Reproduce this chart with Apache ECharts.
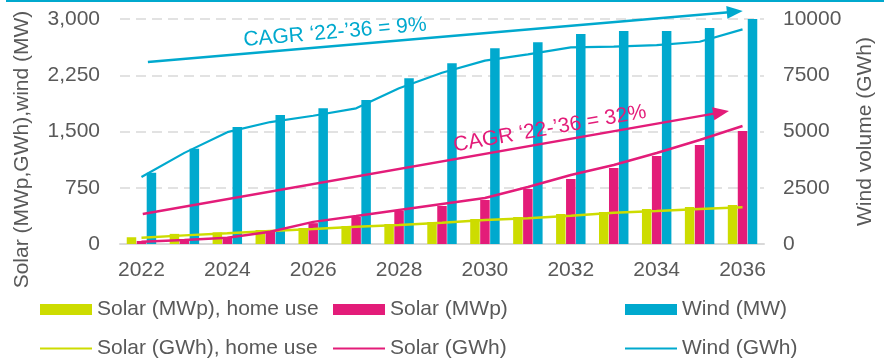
<!DOCTYPE html>
<html>
<head>
<meta charset="utf-8">
<script src="https://cdn.jsdelivr.net/npm/echarts@6/dist/echarts.min.js"></script>
<style>
  html, body { margin: 0; padding: 0; background: #ffffff; }
  #chart { width: 884px; height: 362px; }
</style>
</head>
<body>
<div id="chart"></div>
<script>
// Categories
const years = ['2022', '2023', '2024', '2025', '2026', '2027', '2028', '2029',
               '2030', '2031', '2032', '2033', '2034', '2035', '2036'];

// Installed capacity (bars, left axis)
const solarHomeMWp = [90, 135, 155, 187, 213, 240, 267, 293, 333, 360, 400, 427, 467, 493, 520];
const solarMWp     = [40, 60, 90, 165, 278, 360, 440, 507, 587, 733, 867, 1013, 1173, 1320, 1507];
const windMW       = [950, 1270, 1560, 1720, 1810, 1920, 2210, 2410, 2610, 2690, 2800, 2840, 2840, 2880, 3000];

// Generated volume (lines)
const solarHomeGWh = [82, 115, 142, 173, 200, 231, 253, 284, 320, 342, 378, 418, 440, 467, 489]; // left axis
const solarGWh     = [30, 53, 84, 164, 295, 373, 453, 533, 613, 760, 920, 1053, 1213, 1387, 1573]; // left axis
const windGWh      = [2980, 4050, 4970, 5420, 5700, 6030, 6920, 7610, 8150, 8430, 8740, 8770, 8840, 8990, 9540]; // right axis

// Axis ticks
const leftTicks  = { min: 0, max: 3000, interval: 750 };
const rightTicks = { min: 0, max: 10000, interval: 2500 };

// CAGR trend arrows: [year index, value] start and end points
const windTrend  = [[0.15, 8090], [13.82, 10324]];   // wind volume scale (GWh)
const solarTrend = [[0.03, 400], [13.5, 1755]];      // left axis scale
const windCagrText  = 'CAGR \u201822-\u201936 = 9%';
const solarCagrText = 'CAGR \u201822-\u201936 = 32%';

const YELLOW = '#cddc00';
const MAGENTA = '#e31c79';
const CYAN = '#00a9ce';
const TEXT = '#595959';
const FONT = '"Liberation Sans", Arial, sans-serif';

// Plot frame (pixels) shared by the main grid and the overlay grid for the wind arrow
const PLOT = { left: 120, right: 120, top: 19, bottom: 118 };
const PLOT_H = 362 - PLOT.top - PLOT.bottom;
// overlay grid starts at the top edge so the wind arrow head can rise above the last tick
const overlayMax = rightTicks.max * (PLOT_H + PLOT.top) / PLOT_H;

const chart = echarts.init(document.getElementById('chart'), null, { renderer: 'canvas' });

const LINE_ICON = 'path://M0,0 L52,0 L52,2.2 L0,2.2 Z';
const legendText = { color: TEXT, fontSize: 21, lineHeight: 21, fontFamily: FONT };
function legendCol(left, barName, lineName) {
  return {
    orient: 'vertical', left: left, top: 299, height: 80, padding: 0,
    itemWidth: 52, itemHeight: 11, itemGap: 18,
    selectedMode: false,
    textStyle: legendText,
    data: [{ name: barName, icon: 'rect' }, { name: lineName, icon: LINE_ICON }]
  };
}

const barBase = { type: 'bar', barWidth: 9.5, barGap: '5%', silent: true };
const lineBase = { type: 'line', symbol: 'none', showSymbol: false, silent: true };

function trendSeries(name, xAxisIndex, yAxisIndex, pts, color, text, along) {
  return {
    name: name, type: 'line', xAxisIndex: xAxisIndex, yAxisIndex: yAxisIndex,
    data: [], silent: true, clip: false,
    markLine: {
      silent: true,
      symbol: ['none', 'triangle'],
      symbolSize: [13, 16],
      lineStyle: { color: color, width: 2.5, type: 'solid' },
      label: {
        show: true, position: 'insideStartTop', distance: [along, 3],
        formatter: text, color: color, fontSize: 21, fontFamily: FONT
      },
      data: [[{ coord: pts[0] }, { coord: pts[1] }]]
    }
  };
}

chart.setOption({
  animation: false,
  backgroundColor: '#ffffff',
  textStyle: { fontFamily: FONT },
  graphic: [
    { type: 'rect', left: 6, top: 0, shape: { width: 878, height: 2 }, style: { fill: CYAN }, silent: true }
  ],
  grid: [
    { left: PLOT.left, right: PLOT.right, top: PLOT.top, bottom: PLOT.bottom, containLabel: false },
    { left: PLOT.left, right: PLOT.right, top: 0, bottom: PLOT.bottom, containLabel: false }
  ],
  legend: [
    legendCol(40, 'Solar (MWp), home use', 'Solar (GWh), home use'),
    legendCol(333, 'Solar (MWp)', 'Solar (GWh)'),
    legendCol(625, 'Wind (MW)', 'Wind (GWh)')
  ],
  xAxis: [
    {
      type: 'category', data: years, boundaryGap: true, gridIndex: 0,
      axisLine: { lineStyle: { color: '#d9d9d9', width: 2 } },
      axisTick: { show: false },
      axisLabel: { interval: 1, color: TEXT, fontSize: 21, fontFamily: FONT, margin: 16 },
      splitLine: { show: false }
    },
    { type: 'value', gridIndex: 0, min: -0.5, max: years.length - 0.5, show: false },
    { type: 'value', gridIndex: 1, min: -0.5, max: years.length - 0.5, show: false }
  ],
  yAxis: [
    {
      type: 'value', position: 'left', gridIndex: 0,
      min: leftTicks.min, max: leftTicks.max, interval: leftTicks.interval,
      name: 'Solar (MWp,GWh),wind (MW)', nameLocation: 'middle', nameRotate: 90, nameGap: 87,
      nameTextStyle: { color: TEXT, fontSize: 21, fontFamily: FONT, padding: [0, 36, 0, 0] },
      axisLine: { show: false }, axisTick: { show: false },
      axisLabel: {
        color: TEXT, fontSize: 21, fontFamily: FONT, margin: 20,
        formatter: v => v.toLocaleString('en-US')
      },
      splitLine: { show: true, lineStyle: { color: '#d9d9d9', width: 1.5, type: [10, 6] } }
    },
    {
      type: 'value', position: 'right', gridIndex: 0,
      min: rightTicks.min, max: rightTicks.max, interval: rightTicks.interval,
      name: 'Wind volume (GWh)', nameLocation: 'middle', nameRotate: 90, nameGap: 91,
      nameTextStyle: { color: TEXT, fontSize: 21, fontFamily: FONT },
      axisLine: { show: false }, axisTick: { show: false },
      axisLabel: { color: TEXT, fontSize: 21, fontFamily: FONT, margin: 19, formatter: v => String(v) },
      splitLine: { show: false }
    },
    { type: 'value', gridIndex: 1, min: 0, max: overlayMax, show: false }
  ],
  series: [
    Object.assign({}, barBase, { name: 'Solar (MWp), home use', data: solarHomeMWp, itemStyle: { color: YELLOW } }),
    Object.assign({}, barBase, { name: 'Solar (MWp)', data: solarMWp, itemStyle: { color: MAGENTA } }),
    Object.assign({}, barBase, { name: 'Wind (MW)', data: windMW, itemStyle: { color: CYAN } }),
    Object.assign({}, lineBase, { name: 'Solar (GWh), home use', data: solarHomeGWh, yAxisIndex: 0, lineStyle: { color: YELLOW, width: 2.5 }, itemStyle: { color: YELLOW } }),
    Object.assign({}, lineBase, { name: 'Solar (GWh)', data: solarGWh, yAxisIndex: 0, lineStyle: { color: MAGENTA, width: 2.5 }, itemStyle: { color: MAGENTA } }),
    Object.assign({}, lineBase, { name: 'Wind (GWh)', data: windGWh, yAxisIndex: 1, lineStyle: { color: CYAN, width: 2.2 }, itemStyle: { color: CYAN } }),
    trendSeries('windTrend', 2, 2, windTrend, CYAN, windCagrText, 97),
    trendSeries('solarTrend', 1, 0, solarTrend, MAGENTA, solarCagrText, 318)
  ]
});
</script>
</body>
</html>
